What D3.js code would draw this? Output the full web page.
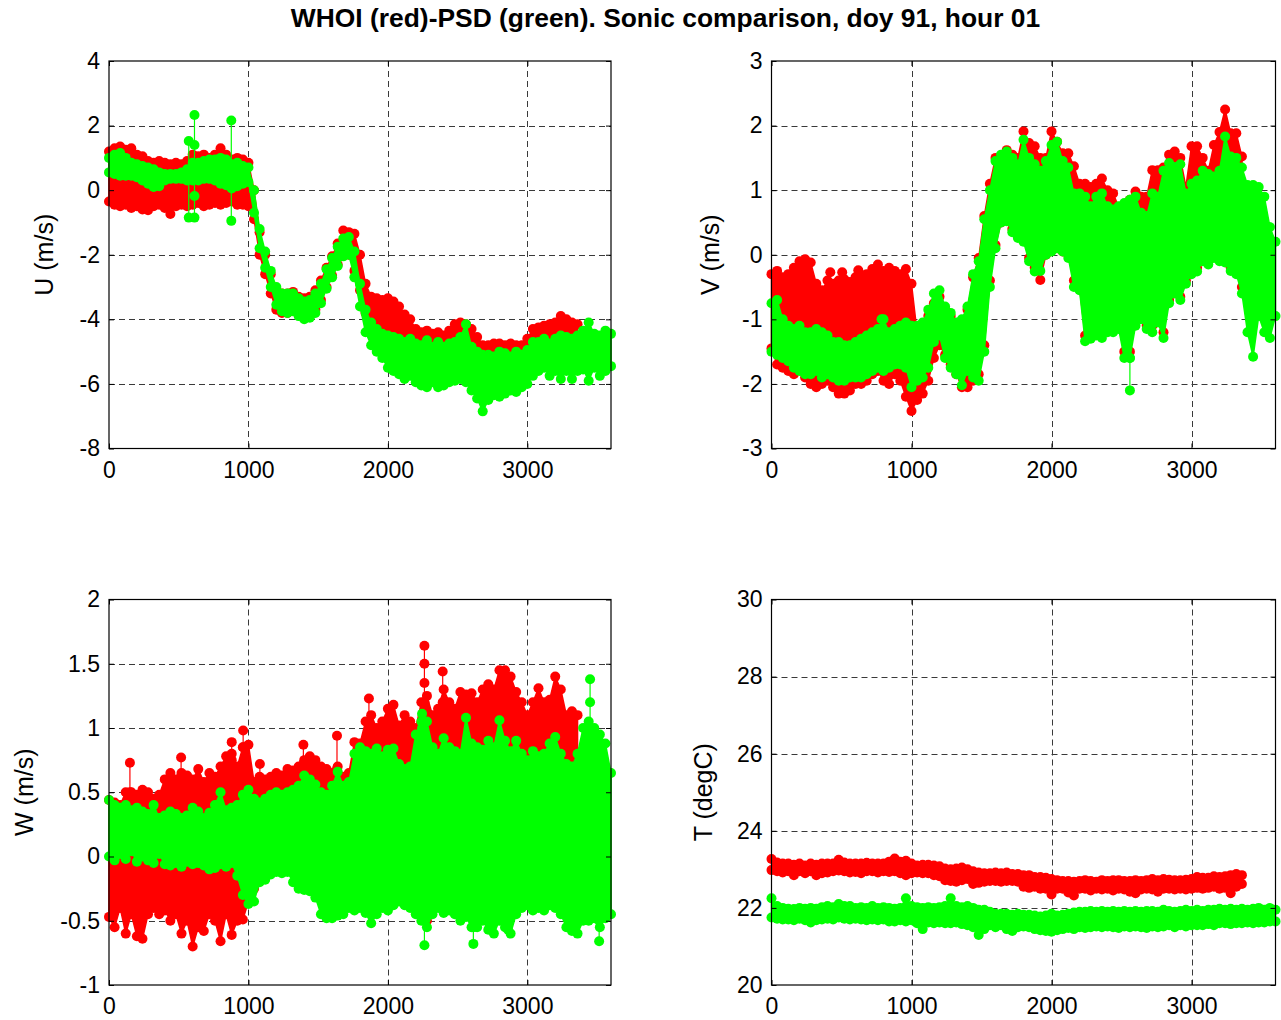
<!DOCTYPE html>
<html>
<head>
<meta charset="utf-8">
<script src="https://cdn.jsdelivr.net/npm/d3@7"></script>
<style>
  body { margin: 0; background: #fff; }
  svg text { font-family: "Liberation Sans", Arial, Helvetica, sans-serif; fill: #000; }
</style>
</head>
<body>
<svg id="fig" width="1281" height="1020"></svg>
<script>
// Sonic anemometer comparison, 1 h record. Each series is stored as the
// upper / lower envelope of the samples in consecutive 40 s windows.
const binSeconds = 40;
const xTicks = [0, 1000, 2000, 3000];
const xDomain = [0, 3600];
const titleText = "WHOI (red)-PSD (green). Sonic comparison, doy 91, hour 01";

// ---- U (m/s)
const uTicks = [-8, -6, -4, -2, 0, 2, 4];
const uRedHi = [1.2, 1.3, 1.35, 1.25, 1.3, 1.1, 1.05, 0.9, 0.85, 0.9,
  0.85, 0.8, 0.85, 0.8, 0.9, 1.1, 1.05, 1.1, 1.0, 1.1,
  1.3, 1.1, 0.95, 1.0, 0.95, 0.85, 0.0, -1.3, -2.0, -2.6,
  -3.1, -3.2, -3.2, -3.15, -3.3, -3.35, -3.3, -3.1, -2.8, -2.4,
  -2.05, -1.65, -1.25, -1.3, -1.35, -2.0, -2.9, -3.3, -3.35, -3.4,
  -3.35, -3.45, -3.6, -3.85, -4.0, -4.3, -4.4, -4.35, -4.45, -4.4,
  -4.5, -4.35, -4.15, -4.1, -4.15, -4.3, -4.55, -4.8, -4.8, -4.75,
  -4.75, -4.8, -4.75, -4.8, -4.8, -4.6, -4.3, -4.25, -4.2, -4.15,
  -4.1, -3.9, -4.0, -4.1, -4.15];
const uRedLo = [-0.35, -0.45, -0.5, -0.45, -0.55, -0.5, -0.6, -0.62, -0.5, -0.45,
  -0.55, -0.74, -0.5, -0.45, -0.5, -0.45, -0.4, -0.5, -0.45, -0.4,
  -0.45, -0.4, -0.35, -0.45, -0.45, -0.5, -0.9, -2.0, -2.6, -3.2,
  -3.7, -3.8, -3.8, -3.75, -3.85, -3.95, -3.9, -3.7, -3.4, -3.0,
  -2.65, -2.3, -2.0, -2.0, -2.5, -3.1, -3.8, -4.1, -4.3, -4.5,
  -4.5, -4.6, -4.7, -4.8, -4.9, -5.2, -5.3, -5.3, -5.4, -5.4,
  -5.5, -5.3, -5.2, -5.2, -5.3, -5.4, -5.6, -5.9, -6.0, -5.9,
  -5.9, -5.9, -5.8, -5.9, -5.8, -5.6, -5.3, -5.2, -5.2, -5.2,
  -5.1, -5.0, -5.1, -5.1, -5.1];
const uGreenHi = [1.0, 1.1, 1.15, 1.0, 0.85, 0.8, 0.75, 0.7, 0.65, 0.55,
  0.5, 0.5, 0.5, 0.55, 0.65, 0.85, 0.85, 0.9, 0.95, 0.95,
  1.0, 0.95, 0.8, 0.85, 0.75, 0.7, 0.0, -1.2, -1.9, -2.5,
  -3.0, -3.2, -3.2, -3.2, -3.35, -3.45, -3.4, -3.2, -2.9, -2.45,
  -2.1, -1.75, -1.5, -1.45, -1.9, -2.9, -3.7, -4.1, -4.3, -4.45,
  -4.5, -4.55, -4.6, -4.7, -4.6, -4.75, -4.8, -4.65, -4.85, -4.7,
  -4.85, -4.75, -4.7, -4.55, -4.15, -4.85, -5.0, -5.1, -5.1, -5.15,
  -5.0, -5.05, -5.15, -5.0, -5.1, -4.95, -4.7, -4.7, -4.6, -4.75,
  -4.6, -4.5, -4.55, -4.6, -4.5, -4.35, -4.1, -4.45, -4.5, -4.35,
  -4.45];
const uGreenLo = [0.55, 0.5, 0.45, 0.45, 0.45, 0.4, 0.3, 0.2, 0.1, 0.12,
  0.3, 0.35, 0.35, 0.35, 0.3, 0.3, 0.3, 0.35, 0.35, 0.3,
  0.2, 0.15, 0.05, 0.12, 0.2, 0.25, -0.7, -1.8, -2.4, -3.0,
  -3.55, -3.75, -3.8, -3.75, -3.9, -4.0, -3.95, -3.8, -3.5, -3.05,
  -2.7, -2.35, -2.05, -2.0, -2.7, -3.6, -4.4, -4.8, -5.0, -5.2,
  -5.5, -5.6, -5.7, -5.85, -5.75, -5.95, -6.05, -6.1, -5.95, -6.1,
  -6.05, -5.95, -5.9, -5.85, -5.95, -6.2, -6.45, -6.85, -6.5, -6.35,
  -6.4, -6.3, -6.2, -6.25, -6.1, -6.0, -5.75, -5.6, -5.5, -5.75,
  -5.6, -5.85, -5.6, -5.85, -5.6, -5.55, -5.9, -5.5, -5.75, -5.6,
  -5.45];
// single-sample glitches: [time, values...]
const uGreenSpikes = [[572, 1.52, -0.85], [613, 2.33, 1.4, -0.18, -0.85], [877, 2.16, -0.95]];
const uRedSpikes = [];

// ---- V (m/s)
const vTicks = [-3, -2, -1, 0, 1, 2, 3];
const vRedHi = [-0.3, -0.25, -0.35, -0.3, -0.2, -0.1, -0.07, -0.12, -0.45, -0.55,
  -0.4, -0.45, -0.4, -0.38, -0.42, -0.35, -0.35, -0.3, -0.22, -0.15,
  -0.25, -0.2, -0.25, -0.3, -0.22, -0.45, -1.2, -1.15, -0.95, -0.75,
  -0.65, -0.85, -0.95, -1.1, -1.05, -0.85, -0.35, -0.05, 0.6, 1.1,
  1.5, 1.45, 1.62, 1.55, 1.5, 1.91, 1.73, 1.68, 1.5, 1.5,
  1.91, 1.75, 1.57, 1.57, 1.37, 1.1, 1.1, 1.05, 1.1, 1.18,
  1.0, 0.95, 0.74, 0.74, 0.85, 0.98, 0.9, 0.9, 1.31, 1.31,
  1.35, 1.55, 1.6, 1.5, 1.05, 1.68, 1.68, 1.5, 1.3, 1.7,
  1.9, 2.25, 1.88, 1.88, 1.52];
const vRedLo = [-1.45, -1.7, -1.75, -1.8, -1.85, -1.75, -1.9, -2.0, -2.05, -2.0,
  -1.95, -2.05, -2.15, -2.15, -2.1, -2.0, -2.0, -1.95, -1.85, -1.8,
  -1.95, -2.0, -1.85, -1.95, -2.2, -2.42, -2.25, -2.15, -1.95, -1.6,
  -1.4, -1.55, -1.7, -1.85, -2.05, -2.05, -1.95, -1.85, -1.4, -0.4,
  0.15, 0.5, 0.55, 0.4, 0.3, 0.25, -0.05, -0.2, -0.39, 0.0,
  0.1, 0.1, 0.05, 0.0, -0.4, -0.5, -1.25, -1.2, -1.2, -1.2,
  -1.1, -1.1, -1.1, -1.5, -1.5, -1.0, -0.95, -1.1, -1.1, -1.0,
  -1.2, -0.7, -0.55, -0.65, -0.4, -0.25, -0.2, -0.05, -0.1, 0.0,
  -0.05, -0.05, -0.2, -0.25, -0.5];
const vGreenHi = [-0.75, -0.7, -1.0, -1.1, -1.15, -1.1, -1.2, -1.2, -1.15, -1.2,
  -1.25, -1.35, -1.35, -1.4, -1.4, -1.35, -1.3, -1.25, -1.2, -1.15,
  -1.0, -1.2, -1.15, -1.1, -1.05, -1.1, -1.1, -1.05, -0.85, -0.6,
  -0.55, -0.8, -0.9, -1.05, -1.0, -0.8, -0.3, -0.1, 0.55, 1.0,
  1.45, 1.55, 1.6, 1.5, 1.4, 1.78, 1.5, 1.4, 1.3, 1.45,
  1.7, 1.75, 1.45, 1.35, 0.95, 0.95, 0.9, 0.75, 0.9, 0.95,
  0.75, 0.7, 0.75, 0.8, 0.85, 0.9, 0.65, 0.6, 0.95, 0.9,
  1.3, 1.42, 1.36, 1.4, 0.95, 1.1, 1.15, 1.3, 1.25, 1.21,
  1.3, 1.83, 1.52, 1.5, 1.35, 1.08, 1.08, 1.05, 0.9, 0.43,
  0.2];
const vGreenLo = [-1.5, -1.55, -1.6, -1.65, -1.75, -1.8, -1.85, -1.85, -1.8, -1.9,
  -1.85, -1.9, -1.95, -1.95, -1.9, -1.9, -1.9, -1.85, -1.8, -1.75,
  -1.8, -1.75, -1.7, -1.7, -1.75, -2.05, -1.95, -1.9, -1.75, -1.35,
  -1.25, -1.6, -1.75, -1.85, -2.02, -1.8, -1.9, -1.95, -1.5, -0.5,
  0.1, 0.5, 0.52, 0.35, 0.26, 0.2, -0.1, -0.26, -0.25, 0.0,
  0.05, 0.1, 0.05, -0.05, -0.5, -0.55, -1.34, -1.3, -1.25, -1.29,
  -1.2, -1.2, -1.15, -1.6, -1.6, -1.1, -1.0, -1.15, -1.2, -1.05,
  -1.29, -0.75, -0.6, -0.7, -0.45, -0.3, -0.26, -0.1, -0.15, -0.05,
  -0.1, -0.12, -0.25, -0.3, -0.6, -1.2, -1.58, -0.95, -1.2, -1.29,
  -0.95];
const vRedSpikes = [[420, -0.45, -0.27], [505, -0.45, -0.27], [620, -0.4, -0.24]];
const vGreenSpikes = [[786, -1.15, -1.0], [2560, -1.6, -2.1]];

// ---- W (m/s)
const wTicks = [-1, -0.5, 0, 0.5, 1, 1.5, 2];
const wRedHi = [0.44, 0.42, 0.4, 0.5, 0.5, 0.48, 0.52, 0.5, 0.45, 0.48,
  0.6, 0.65, 0.6, 0.65, 0.63, 0.6, 0.68, 0.58, 0.65, 0.62,
  0.7, 0.78, 0.8, 0.7, 0.85, 0.87, 0.58, 0.62, 0.6, 0.62,
  0.65, 0.63, 0.68, 0.67, 0.7, 0.75, 0.78, 0.75, 0.7, 0.68,
  0.65, 0.7, 0.62, 0.65, 0.89, 0.88, 1.05, 1.1, 1.0, 1.05,
  1.15, 1.18, 1.02, 1.1, 1.05, 1.0, 1.2, 1.25, 1.1, 1.15,
  1.3, 1.2, 1.15, 1.28, 1.26, 1.27, 1.2, 1.3, 1.34, 1.3,
  1.45, 1.45, 1.4, 1.28, 1.2, 1.1, 1.2, 1.31, 1.2, 1.22,
  1.4, 1.3, 1.1, 1.13, 1.1];
const wRedLo = [-0.47, -0.55, -0.4, -0.6, -0.45, -0.62, -0.64, -0.45, -0.4, -0.45,
  -0.42, -0.5, -0.45, -0.6, -0.5, -0.7, -0.55, -0.58, -0.45, -0.5,
  -0.66, -0.45, -0.61, -0.5, -0.49, -0.35, -0.25, -0.12, -0.1, -0.08,
  -0.06, -0.08, -0.06, -0.12, -0.15, -0.18, -0.2, -0.22, -0.3, -0.35,
  -0.35, -0.35, -0.3, -0.3, -0.3, -0.3, -0.35, -0.4, -0.35, -0.3,
  -0.3, -0.3, -0.25, -0.3, -0.3, -0.35, -0.4, -0.5, -0.35, -0.3,
  -0.35, -0.3, -0.35, -0.4, -0.35, -0.45, -0.5, -0.4, -0.45, -0.45,
  -0.4, -0.45, -0.45, -0.35, -0.3, -0.3, -0.3, -0.3, -0.3, -0.3,
  -0.3, -0.35, -0.4, -0.45, -0.45];
const wGreenHi = [0.44, 0.4, 0.38, 0.4, 0.36, 0.38, 0.35, 0.33, 0.4, 0.3,
  0.32, 0.35, 0.33, 0.3, 0.32, 0.38, 0.35, 0.3, 0.34, 0.4,
  0.5, 0.36, 0.38, 0.4, 0.48, 0.52, 0.45, 0.42, 0.45, 0.48,
  0.5, 0.48, 0.5, 0.52, 0.55, 0.63, 0.6, 0.56, 0.5, 0.48,
  0.55, 0.66, 0.55, 0.58, 0.8, 0.85, 0.82, 0.8, 0.84, 0.78,
  0.83, 0.84, 0.72, 0.68, 0.7, 0.95, 1.05, 1.05, 0.85, 0.8,
  0.92, 0.85, 0.82, 0.8, 1.08, 0.88, 0.85, 0.83, 0.9, 0.85,
  1.06, 0.9, 0.82, 0.9, 0.8, 0.75, 0.82, 0.78, 0.8, 0.88,
  0.93, 0.8, 0.72, 0.7, 0.8, 1.0, 1.05, 1.0, 0.95, 0.88,
  0.65];
const wGreenLo = [0.0, -0.03, 0.02, -0.02, 0.04, -0.04, 0.0, -0.03, -0.05, 0.02,
  -0.06, -0.07, -0.05, -0.08, -0.04, -0.06, -0.05, -0.07, -0.1, -0.09,
  -0.06, -0.08, -0.05, -0.15, -0.3, -0.37, -0.35, -0.2, -0.18, -0.14,
  -0.12, -0.13, -0.12, -0.2, -0.25, -0.26, -0.27, -0.32, -0.45, -0.48,
  -0.48, -0.46, -0.45, -0.4, -0.42, -0.4, -0.44, -0.52, -0.45, -0.4,
  -0.42, -0.38, -0.35, -0.38, -0.4, -0.45, -0.5, -0.55, -0.45, -0.4,
  -0.44, -0.42, -0.45, -0.5, -0.47, -0.55, -0.55, -0.5, -0.57, -0.6,
  -0.5, -0.55, -0.6, -0.45, -0.4, -0.38, -0.42, -0.4, -0.42, -0.38,
  -0.4, -0.45, -0.55, -0.58, -0.6, -0.5, -0.5, -0.48, -0.55, -0.48,
  -0.45];
// narrow excursions lasting only a few samples: [time, values...]
const wRedSpikes = [[150, 0.5, 0.73], [517, 0.62, 0.77], [880, 0.75, 0.89], [962, 0.85, 0.98],
  [1082, 0.6, 0.72], [1394, 0.72, 0.87], [1635, 0.68, 0.94], [1864, 1.05, 1.23],
  [2262, 1.2, 1.35, 1.5, 1.64], [2393, 1.2, 1.44]];
const wGreenSpikes = [[2262, -0.5, -0.69], [2245, 1.0, 1.11], [2613, -0.55, -0.68],
  [2862, -0.45, -0.57], [3450, 1.0, 1.2, 1.38], [3515, -0.5, -0.66]];

// ---- T (degC)
const tTicks = [20, 22, 24, 26, 28, 30];
const tRedHi = [23.27, 23.18, 23.15, 23.15, 23.12, 23.15, 23.1, 23.15, 23.12, 23.15,
  23.15, 23.15, 23.25, 23.18, 23.15, 23.15, 23.15, 23.17, 23.15, 23.15,
  23.15, 23.2, 23.28, 23.2, 23.22, 23.15, 23.1, 23.12, 23.12, 23.1,
  23.08, 23.02, 23.0, 23.02, 23.05, 23.0, 22.95, 22.92, 22.9, 22.9,
  22.92, 22.9, 22.92, 22.88, 22.88, 22.85, 22.85, 22.8, 22.8, 22.78,
  22.75, 22.72, 22.7, 22.7, 22.68, 22.7, 22.72, 22.7, 22.68, 22.72,
  22.7, 22.72, 22.72, 22.7, 22.7, 22.72, 22.7, 22.72, 22.75, 22.72,
  22.75, 22.73, 22.72, 22.72, 22.73, 22.75, 22.8, 22.78, 22.78, 22.82,
  22.8, 22.82, 22.85, 22.88, 22.85];
const tRedLo = [22.98, 22.95, 22.92, 22.95, 22.85, 22.95, 22.9, 22.95, 22.85, 22.9,
  22.92, 22.95, 22.97, 22.95, 22.92, 22.93, 22.9, 22.95, 22.95, 22.92,
  22.95, 22.93, 22.95, 22.9, 22.85, 22.9, 22.92, 22.9, 22.9, 22.85,
  22.82, 22.72, 22.7, 22.68, 22.72, 22.75, 22.62, 22.65, 22.68, 22.7,
  22.7, 22.68, 22.7, 22.7, 22.68, 22.55, 22.52, 22.55, 22.5, 22.5,
  22.35, 22.5, 22.5, 22.4, 22.32, 22.5, 22.5, 22.45, 22.5, 22.48,
  22.5, 22.45, 22.5, 22.48, 22.42, 22.38, 22.48, 22.5, 22.48, 22.42,
  22.5, 22.5, 22.48, 22.5, 22.48, 22.5, 22.52, 22.5, 22.52, 22.55,
  22.5, 22.52, 22.38, 22.55, 22.62];
const tGreenHi = [22.25, 22.05, 22.0, 21.98, 21.97, 22.0, 21.98, 22.0, 21.98, 22.02,
  22.05, 22.02, 22.1, 22.05, 22.05, 22.0, 22.02, 22.0, 22.05, 22.0,
  22.02, 22.0, 21.98, 22.0, 22.25, 22.05, 22.02, 22.0, 22.02, 22.0,
  22.02, 22.05, 22.25, 22.05, 22.02, 22.05, 22.0, 21.95, 21.95, 21.9,
  21.85, 21.85, 21.85, 21.82, 21.85, 21.82, 21.82, 21.8, 21.78, 21.8,
  21.85, 21.8, 21.82, 21.85, 21.88, 21.9, 21.9, 21.92, 21.9, 21.92,
  21.9, 21.92, 21.9, 21.92, 21.9, 21.92, 21.9, 21.92, 21.92, 21.9,
  21.95, 21.92, 21.9, 21.92, 21.95, 21.92, 21.95, 21.92, 21.95, 21.95,
  21.98, 21.95, 21.98, 21.95, 21.98, 21.95, 21.98, 22.0, 21.95, 22.0,
  21.95];
const tGreenLo = [21.75, 21.72, 21.7, 21.7, 21.68, 21.72, 21.68, 21.62, 21.68, 21.7,
  21.72, 21.7, 21.75, 21.72, 21.7, 21.72, 21.7, 21.68, 21.7, 21.68,
  21.7, 21.65, 21.65, 21.68, 21.65, 21.68, 21.6, 21.45, 21.62, 21.6,
  21.62, 21.6, 21.6, 21.62, 21.58, 21.55, 21.5, 21.3, 21.45, 21.55,
  21.5, 21.55, 21.45, 21.4, 21.5, 21.52, 21.5, 21.45, 21.42, 21.4,
  21.38, 21.42, 21.45, 21.48, 21.45, 21.5, 21.48, 21.5, 21.52, 21.5,
  21.52, 21.5, 21.48, 21.52, 21.5, 21.52, 21.5, 21.48, 21.52, 21.5,
  21.52, 21.55, 21.5, 21.55, 21.52, 21.55, 21.55, 21.55, 21.58, 21.55,
  21.6, 21.6, 21.58, 21.6, 21.6, 21.62, 21.6, 21.62, 21.62, 21.65,
  21.65];
const tRedSpikes = [];
const tGreenSpikes = [];

// ---- figure layout and styling
const RED = "#ff0000", GREEN = "#00ff00";
const MARKER_R = 5;
const TICK_FONT = 23, LABEL_FONT = 25, TITLE_FONT = 26.4;

const panels = [
  { label: "U (m/s)", yDomain: [-8, 4], yTicks: uTicks,
    box: { left: 109, right: 611, top: 61, bottom: 448.5 }, labelX: 53,
    red: [uRedHi, uRedLo, uRedSpikes], green: [uGreenHi, uGreenLo, uGreenSpikes] },
  { label: "V (m/s)", yDomain: [-3, 3], yTicks: vTicks,
    box: { left: 771.5, right: 1275.5, top: 61, bottom: 448.5 }, labelX: 719,
    red: [vRedHi, vRedLo, vRedSpikes], green: [vGreenHi, vGreenLo, vGreenSpikes] },
  { label: "W (m/s)", yDomain: [-1, 2], yTicks: wTicks,
    box: { left: 109, right: 611, top: 599.5, bottom: 985 }, labelX: 33,
    red: [wRedHi, wRedLo, wRedSpikes], green: [wGreenHi, wGreenLo, wGreenSpikes] },
  { label: "T (degC)", yDomain: [20, 30], yTicks: tTicks,
    box: { left: 771.5, right: 1275.5, top: 599.5, bottom: 985 }, labelX: 712,
    red: [tRedHi, tRedLo, tRedSpikes], green: [tGreenHi, tGreenLo, tGreenSpikes] }
];

const svg = d3.select("#fig");
svg.append("rect").attr("width", 1281).attr("height", 1020).attr("fill", "#fff");

svg.append("text")
  .attr("x", 665.5).attr("y", 27)
  .attr("text-anchor", "middle")
  .attr("font-size", TITLE_FONT).attr("font-weight", "bold")
  .text(titleText);

function drawSeries(g, x, y, hi, lo, spikes, color) {
  const pts = hi.map((v, i) => ({ t: i * binSeconds, hi: v, lo: lo[i] }));
  // filled band between the window extremes
  g.append("path").datum(pts)
    .attr("d", d3.area().x(d => x(d.t)).y0(d => y(d.lo)).y1(d => y(d.hi)))
    .attr("fill", color).attr("stroke", color).attr("stroke-width", 1.5)
    .attr("stroke-linejoin", "round");
  // sample trace alternating between the extremes
  const zig = pts.flatMap(d => [[d.t, d.hi], [d.t, d.lo]]);
  g.append("path").datum(zig)
    .attr("d", d3.line().x(d => x(d[0])).y(d => y(d[1])))
    .attr("fill", "none").attr("stroke", color).attr("stroke-width", 1);
  g.append("g").selectAll("circle").data(zig).join("circle")
    .attr("cx", d => x(d[0])).attr("cy", d => y(d[1]))
    .attr("r", MARKER_R).attr("fill", color);
  // short excursions drawn as a stem with a marker on every sample
  spikes.forEach(s => {
    const t = s[0], vals = s.slice(1);
    g.append("line")
      .attr("x1", x(t)).attr("x2", x(t))
      .attr("y1", y(d3.max(vals))).attr("y2", y(d3.min(vals)))
      .attr("stroke", color).attr("stroke-width", 1.2);
    g.append("g").selectAll("circle").data(vals).join("circle")
      .attr("cx", x(t)).attr("cy", v => y(v))
      .attr("r", MARKER_R).attr("fill", color);
  });
}

panels.forEach(p => {
  const b = p.box;
  const x = d3.scaleLinear().domain(xDomain).range([b.left, b.right]);
  const y = d3.scaleLinear().domain(p.yDomain).range([b.bottom, b.top]);
  const g = svg.append("g");
  const w = b.right - b.left, h = b.bottom - b.top;

  // dashed grid at the interior ticks
  const grid = g.append("g").attr("stroke", "#3a3a3a").attr("stroke-width", 1)
    .attr("stroke-dasharray", "6,4");
  grid.selectAll("line.gx").data(xTicks.filter(t => t > xDomain[0] && t < xDomain[1]))
    .join("line").attr("class", "gx")
    .attr("x1", d => Math.round(x(d)) + 0.5).attr("x2", d => Math.round(x(d)) + 0.5)
    .attr("y1", b.top).attr("y2", b.bottom);
  const yd = p.yDomain;
  grid.selectAll("line.gy").data(p.yTicks.filter(t => t > yd[0] && t < yd[1]))
    .join("line").attr("class", "gy")
    .attr("y1", d => Math.round(y(d)) + 0.5).attr("y2", d => Math.round(y(d)) + 0.5)
    .attr("x1", b.left).attr("x2", b.right);

  // data: WHOI first, PSD on top
  drawSeries(g, x, y, p.red[0], p.red[1], p.red[2], RED);
  drawSeries(g, x, y, p.green[0], p.green[1], p.green[2], GREEN);

  // axes with inward ticks on all four sides
  const fmt = d => String(d);
  const styleAxis = a => {
    a.select(".domain").remove();
    a.attr("font-family", null).attr("font-size", TICK_FONT);
    a.selectAll(".tick line").attr("stroke", "#000");
  };
  g.append("g").attr("transform", `translate(0,${b.bottom})`)
    .call(d3.axisBottom(x).tickValues(xTicks).tickSize(-5).tickPadding(13).tickFormat(fmt))
    .call(styleAxis);
  g.append("g").attr("transform", `translate(0,${b.top})`)
    .call(d3.axisTop(x).tickValues(xTicks).tickSize(-5).tickFormat(""))
    .call(styleAxis);
  g.append("g").attr("transform", `translate(${b.left},0)`)
    .call(d3.axisLeft(y).tickValues(p.yTicks).tickSize(-5).tickPadding(9).tickFormat(fmt))
    .call(styleAxis);
  g.append("g").attr("transform", `translate(${b.right},0)`)
    .call(d3.axisRight(y).tickValues(p.yTicks).tickSize(-5).tickFormat(""))
    .call(styleAxis);

  g.append("rect").attr("x", b.left).attr("y", b.top).attr("width", w).attr("height", h)
    .attr("fill", "none").attr("stroke", "#000").attr("stroke-width", 1.2);

  g.append("text")
    .attr("transform", `translate(${p.labelX},${(b.top + b.bottom) / 2}) rotate(-90)`)
    .attr("text-anchor", "middle").attr("font-size", LABEL_FONT)
    .text(p.label);
});
</script>
</body>
</html>
